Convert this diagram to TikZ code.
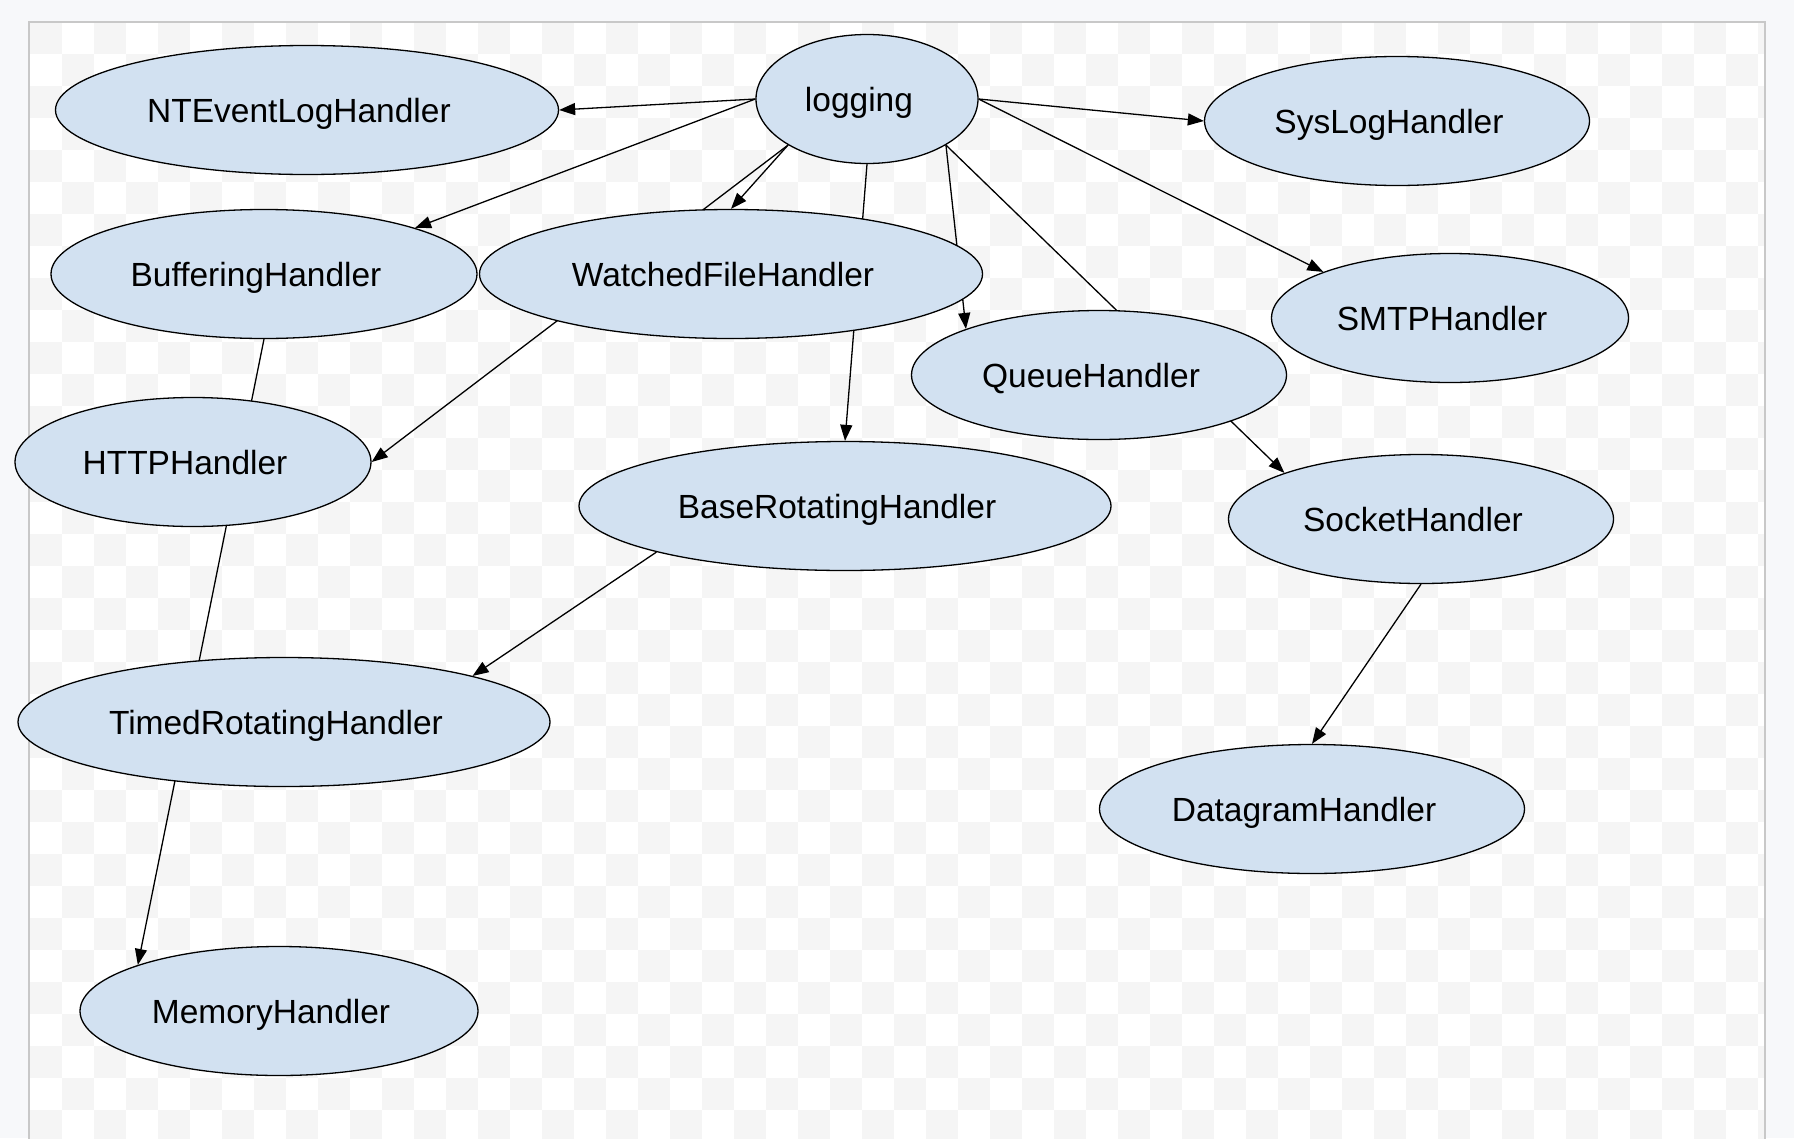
\documentclass[tikz,border=0pt]{standalone}
\usepackage{fontspec}
\setmainfont{Liberation Sans}
\usetikzlibrary{arrows.meta}
\usetikzlibrary{backgrounds}
\usetikzlibrary{shapes}

\definecolor{pagebg}{RGB}{247,248,250}
\definecolor{checker}{RGB}{245,245,245}
\definecolor{framegray}{RGB}{200,200,200}
\definecolor{handlerfill}{RGB}{210,225,241}

\begin{document}
\begin{tikzpicture}[x=1pt,y=-1pt,
    handler/.style={ellipse,draw,line width=1.3pt,fill=handlerfill,inner sep=0pt,
        minimum height=129pt,text height=24pt,text depth=0pt,
        font=\fontsize{33.5}{40}\selectfont,execute at begin node={\hspace*{-16pt}}},
    link/.style={line width=1.3pt,-{Triangle[length=16pt,width=12pt]}}]
        \useasboundingbox (0,0) rectangle (1794,1138);
        % page, grid and frame
        \begin{scope}[on background layer]
            \fill[pagebg] (0,0) rectangle (1794,1138);
            \fill[white] (29,21.5) rectangle (1765,1138);
            \begin{scope}
                \clip (29,21.5) rectangle (1765,1138);
                \foreach \j in {0,...,34} {
                    \foreach \i in {0,...,27} {
                        \pgfmathtruncatemacro\col{2*\i+mod(\j,2)}
                        \fill[checker] (29.5+32*\col,22+32*\j) rectangle +(32,32);
                    }
                }
            \end{scope}
            \draw[framegray,line width=2pt] (29,1140) -- (29,21.5) -- (1765,21.5) -- (1765,1140);
        \end{scope}
        % handlers
        \node[handler,minimum width=222pt] (logging) at (867,99) {logging};
        \node[handler,minimum width=503pt] (ntevent) at (307,110) {NTEventLogHandler};
        \node[handler,minimum width=385pt] (syslog) at (1397,121) {SysLogHandler};
        \node[handler,minimum width=426pt] (buffering) at (264,274) {BufferingHandler};
        \node[handler,minimum width=503pt] (watched) at (731,274) {WatchedFileHandler};
        \node[handler,minimum width=357pt] (smtp) at (1450,318) {SMTPHandler};
        \node[handler,minimum width=375pt] (queue) at (1099,375) {QueueHandler};
        \node[handler,minimum width=356pt] (http) at (193,462) {HTTPHandler};
        \node[handler,minimum width=532pt] (baserot) at (845,506) {BaseRotatingHandler};
        \node[handler,minimum width=385pt] (socket) at (1421,519) {SocketHandler};
        \node[handler,minimum width=532pt] (timedrot) at (284,722) {TimedRotatingHandler};
        \node[handler,minimum width=425pt] (datagram) at (1312,809) {DatagramHandler};
        \node[handler,minimum width=398pt] (memory) at (279,1011) {MemoryHandler};
        % links, under the handlers
        \begin{scope}[on background layer]
            \foreach \from/\to in {logging.west/ntevent.east, logging.west/buffering.north east,
                logging.south west/watched.north, logging.south west/http.east,
                logging.south/baserot.north, logging.south east/queue.north west,
                logging.south east/socket.north west, logging.east/syslog.west,
                logging.east/smtp.north west, buffering.south/memory.north west,
                baserot.south west/timedrot.north east, socket.south/datagram.north}
                \draw[link] (\from) -- (\to);
        \end{scope}
    \end{tikzpicture}
\end{document}
